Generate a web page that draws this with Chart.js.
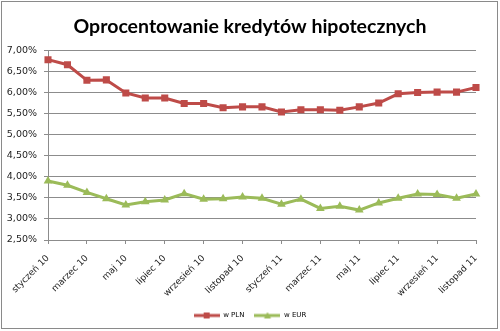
<!DOCTYPE html>
<html>
<head>
<meta charset="utf-8">
<script src="https://cdn.jsdelivr.net/npm/chart.js@4.4.1/dist/chart.umd.min.js"></script>
<style>
    html, body { margin: 0; padding: 0; background: #ffffff; }
    #wrap { width: 500px; height: 331px; position: relative; }
</style>
</head>
<body>
<div id="wrap"><canvas id="rateChart" width="500" height="331"></canvas></div>
<script>
// Months Jan 2010 – Nov 2011
const months = [
    'styczeń 10', 'luty 10', 'marzec 10', 'kwiecień 10', 'maj 10', 'czerwiec 10',
    'lipiec 10', 'sierpień 10', 'wrzesień 10', 'październik 10', 'listopad 10', 'grudzień 10',
    'styczeń 11', 'luty 11', 'marzec 11', 'kwiecień 11', 'maj 11', 'czerwiec 11',
    'lipiec 11', 'sierpień 11', 'wrzesień 11', 'październik 11', 'listopad 11'
];

const ratesPLN = [
    6.78, 6.66, 6.29, 6.30, 5.99, 5.87, 5.87, 5.74, 5.74, 5.64, 5.66, 5.66,
    5.54, 5.59, 5.59, 5.58, 5.66, 5.75, 5.97, 6.00, 6.01, 6.01, 6.12
];

const ratesEUR = [
    3.90, 3.80, 3.63, 3.48, 3.33, 3.41, 3.45, 3.60, 3.47, 3.48, 3.52, 3.49,
    3.35, 3.47, 3.25, 3.30, 3.21, 3.38, 3.49, 3.59, 3.58, 3.49, 3.59
];

const yTicks = [2.5, 3.0, 3.5, 4.0, 4.5, 5.0, 5.5, 6.0, 6.5, 7.0];

const RED = '#BE4B48';
const GREEN = '#9BBB59';
const GRID = '#8c8c8c';
const TICK_FONT = { family: '"DejaVu Sans"', size: 9.5 };

// small line-with-marker swatch for the legend
function legendSwatch(color, style) {
    const c = document.createElement('canvas');
    c.width = 26; c.height = 8;
    const g = c.getContext('2d');
    g.strokeStyle = color;
    g.lineWidth = 3;
    g.beginPath();
    g.moveTo(0, 4); g.lineTo(26, 4);
    g.stroke();
    g.fillStyle = color;
    g.beginPath();
    if (style === 'rect') {
        g.rect(10, 1, 6, 6);
    } else {
        g.moveTo(13, 0.5); g.lineTo(16.5, 7); g.lineTo(9.5, 7); g.closePath();
    }
    g.fill();
    return c;
}

// white background and thin grey frame round the whole chart
const frame = {
    id: 'frame',
    beforeDraw(chart) {
        const ctx = chart.ctx;
        ctx.save();
        ctx.fillStyle = '#ffffff';
        ctx.fillRect(0, 0, chart.width, chart.height);
        ctx.strokeStyle = '#8a8a8a';
        ctx.lineWidth = 1;
        ctx.strokeRect(1.5, 1.5, 496, 327);
        ctx.restore();
    }
};

Chart.defaults.color = '#222222';

const ctx = document.getElementById('rateChart').getContext('2d');
new Chart(ctx, {
    type: 'line',
    data: {
        labels: months,
        datasets: [{
            label: 'w PLN',
            data: ratesPLN,
            borderColor: RED,
            backgroundColor: RED,
            borderWidth: 3,
            pointStyle: 'rect',
            pointRadius: 5,
            pointBorderWidth: 0,
            tension: 0
        }, {
            label: 'w EUR',
            data: ratesEUR,
            borderColor: GREEN,
            backgroundColor: GREEN,
            borderWidth: 3,
            pointStyle: 'triangle',
            pointRadius: 5,
            pointBorderWidth: 0,
            tension: 0
        }]
    },
    options: {
        responsive: false,
        animation: false,
        devicePixelRatio: 1,
        layout: {
            padding: { left: 0, right: 0, top: 0, bottom: 2 }
        },
        plugins: {
            title: {
                display: true,
                text: 'Oprocentowanie kredytów hipotecznych',
                color: '#000000',
                font: { family: 'Lato', size: 19.5, weight: 'bold', lineHeight: 1.2 },
                padding: { top: 15, bottom: 12 }
            },
            legend: {
                position: 'bottom',
                labels: {
                    font: { family: '"DejaVu Sans"', size: 7 },
                    color: '#333333',
                    boxHeight: 8,
                    pointStyleWidth: 26,
                    padding: 10,
                    usePointStyle: true,
                    generateLabels: function(chart) {
                        return chart.data.datasets.map((ds, i) => ({
                            text: ds.label,
                            pointStyle: legendSwatch(ds.borderColor, ds.pointStyle),
                            fillStyle: ds.borderColor,
                            strokeStyle: ds.borderColor,
                            lineWidth: 0,
                            hidden: false,
                            datasetIndex: i
                        }));
                    }
                }
            },
            tooltip: { enabled: false }
        },
        scales: {
            x: {
                offset: false,
                // label every second month
                afterBuildTicks: function(scale) {
                    scale.ticks = scale.ticks.filter((t, i) => i % 2 === 0);
                },
                afterFit: function(scale) {
                    scale.height = 62;
                },
                grid: {
                    drawOnChartArea: false,
                    drawTicks: true,
                    tickLength: 4,
                    color: GRID
                },
                border: { display: true, color: GRID, width: 1 },
                ticks: {
                    autoSkip: false,
                    maxRotation: 45,
                    minRotation: 45,
                    padding: 9,
                    font: { family: '"DejaVu Sans"', size: 9 }
                }
            },
            y: {
                min: 2.5,
                max: 7.0,
                afterBuildTicks: function(scale) {
                    scale.ticks = yTicks.map(v => ({ value: v }));
                },
                afterFit: function(scale) {
                    scale.width = 48;
                },
                grid: {
                    color: GRID,
                    drawTicks: true,
                    tickLength: 4
                },
                border: { display: true, color: GRID, width: 1 },
                ticks: {
                    padding: 7,
                    font: TICK_FONT,
                    callback: function(value) {
                        return value.toFixed(2).replace('.', ',') + '%';
                    }
                }
            },
            // empty spacer keeping the plot clear of the right edge
            yRight: {
                position: 'right',
                display: true,
                grid: { display: false },
                border: { display: false },
                ticks: { display: false },
                afterFit: function(scale) {
                    scale.width = 24;
                }
            }
        }
    },
    plugins: [frame]
});
</script>
</body>
</html>
